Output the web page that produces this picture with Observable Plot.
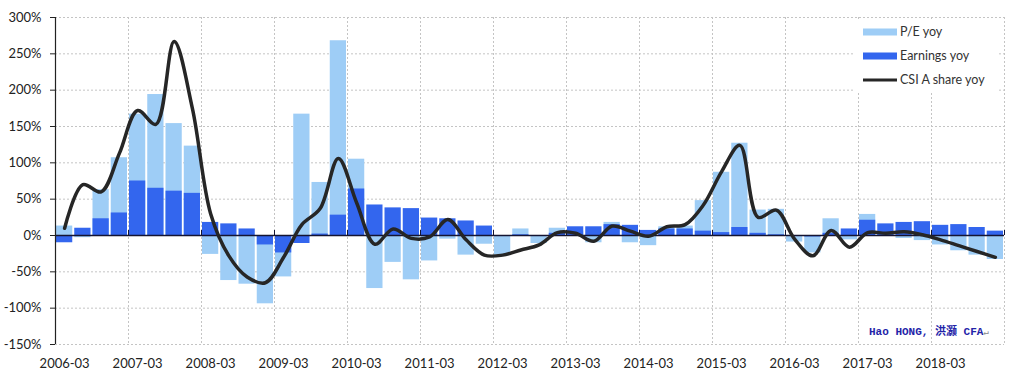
<!DOCTYPE html>
<html><head><meta charset="utf-8">
<script src="https://cdn.jsdelivr.net/npm/d3@7"></script>
<script src="https://cdn.jsdelivr.net/npm/@observablehq/plot@0.6"></script>
<style>body{margin:0;background:#fff;} #chart{width:1021px;height:383px;}</style>
</head><body><div id="chart"></div>
<script>
const quarters = [
  "2006-03","2006-06","2006-09","2006-12","2007-03","2007-06","2007-09","2007-12",
  "2008-03","2008-06","2008-09","2008-12","2009-03","2009-06","2009-09","2009-12",
  "2010-03","2010-06","2010-09","2010-12","2011-03","2011-06","2011-09","2011-12",
  "2012-03","2012-06","2012-09","2012-12","2013-03","2013-06","2013-09","2013-12",
  "2014-03","2014-06","2014-09","2014-12","2015-03","2015-06","2015-09","2015-12",
  "2016-03","2016-06","2016-09","2016-12","2017-03","2017-06","2017-09","2017-12",
  "2018-03","2018-06","2018-09","2018-12"
];
const tickLabels = ["2006-03","2007-03","2008-03","2009-03","2010-03","2011-03","2012-03",
  "2013-03","2014-03","2015-03","2016-03","2017-03","2018-03"];
const yTicks = [-150,-100,-50,0,50,100,150,200,250,300];
// P/E yoy (%)
const peYoy = [
  13,-3,63,107,167,194,154,123,
  -26,-62,-67,-94,-57,167,73,268,
  105,-73,-37,-61,-35,-5,-27,-12,
  -27,9,-11,10,6,-10,18,-10,
  -14,12,13,48,87,127,35,36,
  -9,-24,23,-6,29,5,-4,-7,
  -13,-21,-27,-33
];
// Earnings yoy (%)
const earningsYoy = [
  -10,10,23,31,75,65,61,58,
  18,16,9,-13,-24,-11,2,28,
  64,42,38,37,24,23,20,13,
  -1,1,-1,3,12,12,15,14,
  7,9,9,6,4,11,3,1,
  -1,-2,3,9,21,16,18,19,
  14,15,11,6
];
// CSI A share yoy (%)
const csiYoy = [
  10,70,60,113,172,153,267,175,
  30,-28,-57,-65,-30,15,37,106,
  45,-12,9,-4,-2,22,-6,-27,
  -27,-20,-13,4,3,-8,13,6,
  -1,12,15,42,88,124,25,35,
  -5,-28,7,-16,4,3,5,1,
  -6,-14,-22,-30
];

const data = quarters.map((q, i) => ({i, q, pe: peYoy[i], earn: earningsYoy[i], csi: csiYoy[i]}));
const gridXs = tickLabels.slice(1).map(t => quarters.indexOf(t)).concat([quarters.length]);
const labelXs = tickLabels.map(t => quarters.indexOf(t) + 0.5);

const font = "Lato, 'Open Sans', sans-serif";
const gridColor = "#c4c4c4";

const plot = Plot.plot({
  width: 1021, height: 383,
  marginLeft: 55, marginRight: 17, marginTop: 17, marginBottom: 39,
  style: {fontFamily: font, fontSize: "13px", color: "#222", background: "#fff", overflow: "visible"},
  x: {domain: [0, quarters.length], axis: null},
  y: {domain: [-150, 300], axis: null},
  marks: [
    Plot.gridY(yTicks, {stroke: gridColor, strokeOpacity: 1, strokeDasharray: "2,2"}),
    Plot.gridX(gridXs, {stroke: gridColor, strokeOpacity: 1, strokeDasharray: "2,2"}),
    Plot.rectY(data, {x1: d => d.i, x2: d => d.i + 1, y1: () => 0, y2: "pe", fill: "#9ecdf6", insetLeft: 1, insetRight: 1}),
    Plot.rectY(data, {x1: d => d.i, x2: d => d.i + 1, y1: () => 0, y2: "earn", fill: "#3366ee", insetLeft: 1, insetRight: 1}),
    Plot.ruleY([0], {stroke: "#141432", strokeWidth: 1.5}),
    Plot.ruleX(gridXs, {y1: 0, y2: 0, insetTop: -5, stroke: "#141432", strokeWidth: 1}),
    Plot.line(data, {x: d => d.i + 0.5, y: "csi", curve: "catmull-rom", stroke: "#262626", strokeWidth: 3.5}),
    Plot.ruleX([0], {stroke: "#222", strokeWidth: 1.2}),
    Plot.axisY(yTicks, {tickFormat: d => d + "%", tickSize: 5, tickPadding: 9, stroke: "#222", fill: "#222", fontSize: 13}),
    Plot.axisX(labelXs, {tickFormat: d => quarters[Math.floor(d)], tickSize: 0, tickPadding: 14, fill: "#222", fontSize: 13})
  ]
});

document.getElementById("chart").appendChild(plot);

// Legend (inside the plot area, top right)
const svg = d3.select(plot);
const lg = svg.append("g").attr("font-family", font).attr("font-size", 12.5)
  .attr("text-anchor", "start").style("text-anchor", "start");
lg.append("rect").attr("x", 855).attr("y", 19).attr("width", 143).attr("height", 72)
  .style("fill", "#ffffff").style("stroke", "none");
const items = [
  {label: "P/E yoy", type: "rect", color: "#9ecdf6", y: 32},
  {label: "Earnings yoy", type: "rect", color: "#3366ee", y: 56},
  {label: "CSI A share yoy", type: "line", color: "#262626", y: 80}
];
items.forEach(it => {
  if (it.type === "rect") {
    lg.append("rect").attr("x", 863).attr("y", it.y - 3.5).attr("width", 34).attr("height", 7).style("fill", it.color);
  } else {
    lg.append("line").attr("x1", 863).attr("x2", 897).attr("y1", it.y).attr("y2", it.y)
      .style("stroke", it.color).style("stroke-width", 3);
  }
  lg.append("text").attr("x", 900).attr("y", it.y).attr("dy", "0.35em").style("fill", "#333").text(it.label);
});

// Author mark
const wm = svg.append("text").attr("x", 869).attr("y", 331).attr("dy", "0.35em")
  .attr("text-anchor", "start").style("text-anchor", "start")
  .attr("font-family", "'Liberation Mono', 'Noto Sans CJK SC', monospace").attr("font-size", 11)
  .attr("font-weight", "bold").style("fill", "#2323a8");
wm.append("tspan").text("Hao HONG, 洪灏 CFA");
wm.append("tspan").style("fill", "#888").attr("font-weight", "normal").attr("font-size", 9).text("↵");
</script>
</body></html>
